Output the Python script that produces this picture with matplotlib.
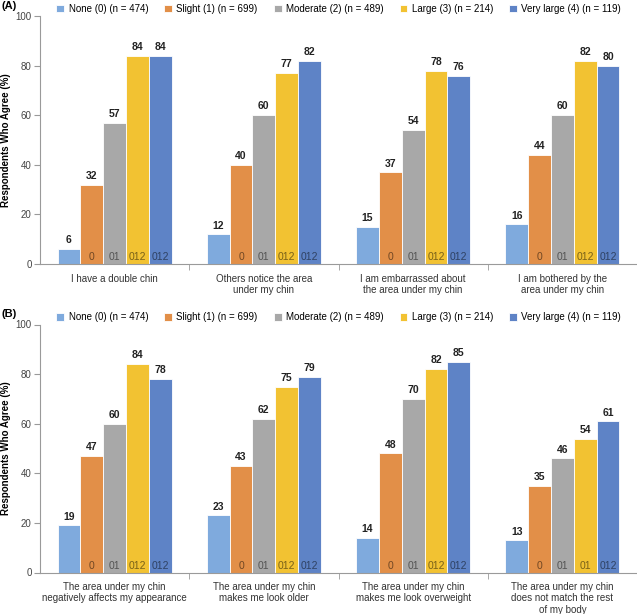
import numpy as np
import matplotlib.pyplot as plt

SERIES = ['None (0) (n = 474)', 'Slight (1) (n = 699)', 'Moderate (2) (n = 489)',
          'Large (3) (n = 214)', 'Very large (4) (n = 119)']
COLORS = ['#7FAADD', '#E28F48', '#A8A8A8', '#F2C232', '#5E83C6']

CATS_A = ['I have a double chin', 'Others notice the area\nunder my chin',
          'I am embarrassed about\nthe area under my chin', 'I am bothered by the\narea under my chin']
VALS_A = [[6, 12, 15, 16],
          [32, 40, 37, 44],
          [57, 60, 54, 60],
          [84, 77, 78, 82],
          [84, 82, 76, 80]]
SIG_A = [['', '', '', ''],
         ['0', '0', '0', '0'],
         ['01', '01', '01', '01'],
         ['012', '012', '012', '012'],
         ['012', '012', '012', '012']]

CATS_B = ['The area under my chin\nnegatively affects my appearance',
          'The area under my chin\nmakes me look older',
          'The area under my chin\nmakes me look overweight',
          'The area under my chin\ndoes not match the rest\nof my body']
VALS_B = [[19, 23, 14, 13],
          [47, 43, 48, 35],
          [60, 62, 70, 46],
          [84, 75, 82, 54],
          [78, 79, 85, 61]]
SIG_B = [['', '', '', ''],
         ['0', '0', '0', '0'],
         ['01', '01', '01', '01'],
         ['012', '012', '012', '01'],
         ['012', '012', '012', '012']]

plt.rcParams['font.family'] = ['Liberation Sans', 'DejaVu Sans']

fig = plt.figure(figsize=(6.37, 6.14), dpi=100)
axA = fig.add_axes([40 / 637, 1 - 264 / 614, 597 / 637, 248 / 614])
axB = fig.add_axes([40 / 637, 1 - 572.5 / 614, 597 / 637, 248 / 614])

grey = '#9a9a9a'
w = 0.153

def draw(ax, cats, vals, sigs, tag, tag_y):
    x = np.arange(len(cats))
    for i, (v, s) in enumerate(zip(vals, sigs)):
        pos = x + (i - 2) * w
        ax.bar(pos, v, w, color=COLORS[i], edgecolor='white', linewidth=0.6, label=SERIES[i])
        for p, val, sg in zip(pos, v, s):
            ax.text(p, val + 1.5, str(val), ha='center', va='bottom', fontsize=7.5, fontweight='bold', color='#222222')
            if sg:
                ax.text(p, 2.8, sg, ha='center', va='center', fontsize=7.5, color='black', alpha=0.5)
    ax.set_xlim(-0.5, len(cats) - 0.5)
    ax.set_ylim(0, 100)
    ax.set_yticks(range(0, 101, 20))
    ax.tick_params(axis='y', labelsize=7, colors='#444444', length=4, color=grey, pad=2)
    ax.set_xticks(x)
    ax.set_xticklabels(cats, fontsize=7, color='#333333', linespacing=1.15)
    ax.tick_params(axis='x', length=0, pad=7)
    ax.set_xticks(np.arange(0.5, len(cats) - 0.5), minor=True)
    ax.tick_params(axis='x', which='minor', length=4, color=grey)
    for sp in ['top', 'right']:
        ax.spines[sp].set_visible(False)
    ax.spines['left'].set_color(grey)
    ax.spines['bottom'].set_color(grey)
    ax.set_ylabel('Respondents Who Agree (%)', fontsize=7, fontweight='bold')
    ax.yaxis.set_label_coords(-0.049, 0.5)
    ax.legend(loc='lower left', bbox_to_anchor=(0.026, 1.005), ncol=5, frameon=False, fontsize=7,
              handlelength=0.8, handleheight=0.8, handletextpad=0.45, columnspacing=1.65,
              borderaxespad=0.1, borderpad=0)
    fig.text(1 / 637, 1 - tag_y / 614, tag, fontsize=8, fontweight='bold', va='center', ha='left')

draw(axA, CATS_A, VALS_A, SIG_A, '(A)', 6)
draw(axB, CATS_B, VALS_B, SIG_B, '(B)', 314)

fig.savefig('out.png', dpi=100)
